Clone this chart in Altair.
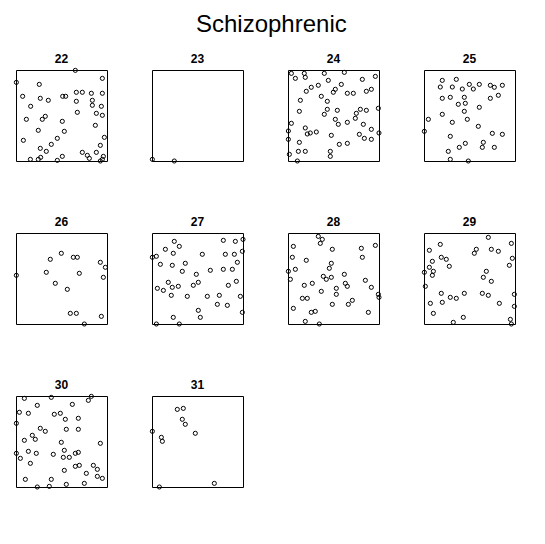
import altair as alt
import pandas as pd

# Point coordinates per panel (window 0..100 in both directions)
x22 = [65.2, 0.4, 94.9, 25.6, 7.3, 26.7, 35.5, 51.3, 54.6, 66.3, 72.9, 82.8, 94.9, 66.3, 83.9, 83.9, 93.8, 16.1, 67.4, 88.3, 94.9, 11.4, 28.9, 32.2, 50.9, 87.2, 24.5, 53.1, 97.1, 8.1, 45.4, 38.8, 92.7, 26.7, 33.3, 72.9, 78.4, 88.3, 50.9, 80.6, 96.0, 27.1, 24.5, 15.8, 45.4, 94.9, 92.7]
y22 = [99.6, 86.4, 90.8, 84.2, 71.1, 68.9, 66.7, 71.1, 71.1, 75.5, 75.5, 74.4, 74.4, 65.6, 66.7, 61.2, 60.1, 60.1, 53.5, 52.4, 50.2, 45.8, 45.8, 49.1, 43.6, 39.2, 33.7, 32.6, 26.0, 22.7, 24.9, 18.3, 17.2, 13.9, 10.6, 9.5, 6.2, 9.5, 5.1, 2.9, 5.1, 4.0, 1.8, 1.8, 0.7, 1.8, 0.0]

x23 = [0.4, 24.5]
y23 = [1.8, 0.0]

x24 = [3.7, 8.1, 17.9, 19.0, 39.9, 61.9, 44.3, 81.7, 96.0, 33.3, 25.6, 20.1, 58.6, 52.0, 49.8, 65.2, 71.8, 86.1, 91.6, 13.6, 36.6, 43.2, 12.5, 43.2, 39.9, 54.2, 79.5, 86.1, 75.1, 99.3, 74.0, 3.7, 52.0, 55.3, 65.2, 82.8, 19.0, 21.2, 24.5, 31.1, 0.4, 91.6, 100.0, 47.6, 78.4, 83.9, 91.6, 0.4, 12.5, 56.4, 65.2, 1.5, 11.4, 19.0, 46.5, 46.5, 10.3]
y24 = [96.3, 90.8, 96.3, 91.9, 96.3, 97.4, 88.6, 89.7, 93.0, 83.2, 81.0, 76.6, 84.2, 78.8, 75.5, 74.4, 74.4, 76.6, 78.8, 66.7, 71.1, 65.6, 54.6, 56.8, 51.3, 55.7, 56.8, 55.7, 52.4, 57.9, 46.9, 41.4, 45.8, 40.3, 42.5, 40.3, 36.3, 29.7, 30.8, 31.9, 33.0, 34.8, 30.8, 28.2, 29.3, 24.9, 23.8, 23.8, 20.5, 18.3, 19.4, 7.3, 10.6, 10.6, 10.6, 5.1, 0.0]

x25 = [20.1, 35.5, 17.9, 31.1, 42.1, 49.8, 54.2, 60.8, 72.9, 77.3, 86.1, 20.1, 28.9, 44.3, 72.9, 81.7, 37.7, 45.4, 60.8, 44.3, 20.1, 4.8, 31.1, 47.6, 59.7, 0.4, 75.1, 86.1, 28.9, 45.4, 38.8, 65.2, 64.1, 77.3, 26.7, 28.9, 48.7]
y25 = [88.6, 89.7, 81.3, 81.3, 79.1, 84.2, 79.1, 84.2, 83.2, 81.0, 83.2, 68.9, 70.0, 70.0, 68.9, 72.2, 62.3, 63.4, 59.0, 54.6, 51.3, 45.8, 42.5, 45.8, 38.1, 32.6, 30.4, 29.3, 27.1, 19.4, 15.0, 20.5, 15.0, 15.0, 10.6, 1.8, 0.0]

x26 = [49.8, 37.7, 63.0, 67.4, 92.7, 98.2, 0.4, 33.3, 69.6, 96.0, 43.2, 56.4, 59.7, 66.3, 93.8, 75.1]
y26 = [77.7, 71.1, 73.3, 73.3, 67.8, 62.3, 53.5, 56.8, 55.7, 51.3, 44.7, 38.1, 11.7, 11.7, 8.4, 0.0]

x27 = [24.5, 30.0, 78.4, 91.6, 100.0, 14.7, 23.4, 55.3, 80.6, 90.5, 99.3, 0.4, 4.8, 9.2, 22.3, 36.6, 93.8, 33.3, 48.7, 64.1, 78.4, 88.3, 17.9, 5.9, 12.5, 22.3, 28.9, 45.4, 50.9, 83.9, 92.7, 21.2, 38.8, 60.8, 74.0, 97.1, 71.8, 82.8, 50.9, 99.3, 23.4, 53.1, 4.8, 30.0]
y27 = [90.8, 85.3, 91.9, 90.8, 93.0, 82.1, 77.7, 76.6, 76.6, 76.6, 79.9, 73.3, 74.4, 65.6, 64.5, 66.7, 67.8, 57.9, 54.6, 59.0, 60.1, 60.1, 45.8, 39.2, 36.9, 40.3, 41.4, 42.5, 45.8, 42.5, 46.9, 31.5, 30.4, 30.4, 31.5, 30.4, 21.6, 20.5, 15.0, 12.8, 7.3, 7.3, 0.0, 0.0]

x28 = [33.3, 37.7, 35.5, 5.9, 48.7, 80.6, 96.0, 4.8, 20.1, 81.7, 47.6, 45.4, 0.4, 8.1, 61.9, 38.8, 42.1, 47.6, 2.6, 85.0, 17.9, 26.7, 63.0, 65.2, 53.1, 91.6, 36.6, 53.1, 15.8, 21.2, 99.3, 100.0, 70.7, 66.3, 48.7, 5.9, 25.6, 30.0, 88.3, 19.0, 34.4]
y28 = [96.3, 93.0, 88.6, 85.3, 82.1, 83.2, 86.4, 73.3, 70.0, 73.3, 66.7, 61.2, 57.9, 60.1, 54.6, 52.4, 49.1, 51.3, 49.1, 48.0, 42.5, 44.7, 44.7, 41.4, 39.2, 40.3, 35.9, 32.6, 28.2, 28.2, 32.6, 29.3, 26.0, 21.6, 21.6, 17.2, 12.8, 13.9, 12.8, 2.9, 0.0]

x29 = [70.7, 17.9, 96.0, 5.9, 57.5, 55.3, 74.0, 81.7, 19.0, 24.5, 97.1, 9.2, 27.8, 93.8, 5.9, 0.4, 10.3, 9.2, 68.5, 65.2, 74.0, 1.5, 19.0, 28.9, 35.5, 44.3, 64.1, 70.7, 99.3, 7.0, 20.1, 82.8, 99.3, 10.3, 43.2, 94.9, 32.2, 96.0]
y29 = [95.2, 87.5, 88.6, 81.0, 82.1, 77.7, 82.1, 79.9, 73.3, 71.1, 72.2, 68.9, 63.4, 64.5, 62.3, 56.8, 57.9, 53.5, 57.9, 51.3, 46.9, 41.4, 33.7, 29.3, 28.2, 33.7, 33.7, 31.5, 32.6, 22.7, 23.8, 22.7, 19.4, 11.7, 7.3, 5.1, 1.8, 0.0]

x30 = [9.2, 38.8, 82.8, 79.5, 23.4, 61.9, 3.7, 13.6, 42.1, 48.7, 54.2, 68.5, 0.4, 26.7, 32.2, 55.3, 68.5, 17.9, 21.2, 9.2, 49.8, 92.7, 53.1, 68.5, 65.2, 0.4, 4.8, 13.6, 22.3, 41.0, 52.0, 58.6, 15.8, 69.6, 65.2, 53.1, 85.0, 89.4, 77.3, 89.4, 94.9, 10.3, 38.8, 55.3, 75.1, 23.4, 36.6]
y30 = [97.4, 98.5, 99.6, 95.2, 89.7, 90.8, 82.1, 81.0, 79.9, 81.0, 74.4, 75.5, 70.0, 64.5, 61.2, 63.4, 63.4, 56.8, 52.4, 51.3, 49.1, 48.0, 40.3, 38.1, 37.0, 37.0, 31.5, 39.2, 37.0, 35.9, 32.6, 32.6, 26.0, 23.8, 22.7, 18.3, 23.8, 19.4, 15.0, 11.7, 9.5, 8.4, 8.4, 2.9, 4.0, 0.0, 0.7]

x31 = [27.8, 34.4, 33.3, 36.6, 47.6, 0.4, 10.3, 11.4, 68.5, 8.1]
y31 = [85.3, 86.4, 74.4, 68.9, 59.0, 61.2, 54.6, 50.2, 4.0, 0.0]

panel_names = ["22", "23", "24", "25", "26", "27", "28", "29", "30", "31"]
panel_x = [x22, x23, x24, x25, x26, x27, x28, x29, x30, x31]
panel_y = [y22, y23, y24, y25, y26, y27, y28, y29, y30, y31]

FONT = "Liberation Sans"
W = 91


def panel(name, xs, ys):
    df = pd.DataFrame({"x": xs, "y": ys})
    pts = alt.Chart(df).mark_point(
        shape="circle", filled=False, color="black", size=17,
        strokeWidth=1, clip=False, opacity=1
    ).encode(
        x=alt.X("x:Q", axis=None,
                scale=alt.Scale(domain=[0, 100], nice=False, zero=False)),
        y=alt.Y("y:Q", axis=None,
                scale=alt.Scale(domain=[0, 100], nice=False, zero=False)),
    )
    lab = alt.Chart(pd.DataFrame({"label": [name]})).mark_text(
        font=FONT, fontSize=12, fontWeight="bold", color="black",
        align="center", baseline="alphabetic"
    ).encode(
        x=alt.value(W / 2), y=alt.value(-7), text="label:N"
    )
    return alt.layer(pts, lab).properties(width=W, height=W)


charts = [panel(n, xs, ys) for n, xs, ys in zip(panel_names, panel_x, panel_y)]

chart = alt.concat(*charts, columns=4, bounds="flush",
                   spacing={"row": 72, "column": 45}).properties(
    title=alt.TitleParams("Schizophrenic", fontSize=24, fontWeight="normal",
                          font=FONT, color="black", anchor="middle",
                          dx=6, offset=16),
    padding={"left": 3, "top": 4, "right": 5, "bottom": 5},
    background="white",
).configure_view(
    stroke="black", strokeWidth=1
)

chart.save("out.html", embed_options={"renderer": "svg", "actions": False})
